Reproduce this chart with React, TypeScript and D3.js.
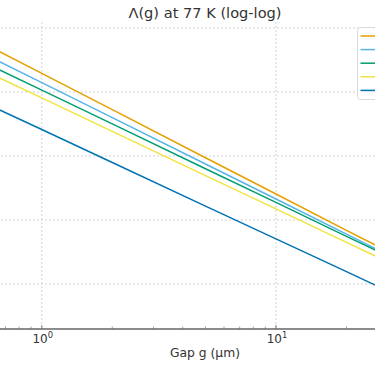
import * as d3 from "d3";
import { useEffect, useRef } from "react";

// gap values (µm) where the curves were read
const gaps = [0.6, 1, 2, 5, 10, 20, 30];

const seriesNames = ["Series A", "Series B", "Series C", "Series D", "Series E"];
const seriesColors = ["#E69F00", "#56B4E9", "#009E73", "#F0E442", "#0072B2"];

// Λ(g) values (y axis labels are cut off in the reference)
const lambdaA = [512, 196, 53.1, 9.4, 2.55, 0.69, 0.322];
const lambdaB = [355, 140, 39.8, 7.5, 2.13, 0.602, 0.288];
const lambdaC = [262, 107, 31.7, 6.33, 1.88, 0.556, 0.274];
const lambdaD = [196, 80.9, 24.2, 4.94, 1.49, 0.447, 0.221];
const lambdaE = [61.8, 25.9, 7.91, 1.65, 0.508, 0.156, 0.078];

const allSeries = [lambdaA, lambdaB, lambdaC, lambdaD, lambdaE];

const xTickValues = [0.1, 1, 10, 100];
const yTickValues = [0.01, 0.1, 1, 10, 100, 1000];

const W = 375;
const H = 366;
const FONT = "DejaVu Sans, sans-serif";

function LambdaChart() {
  const ref = useRef<SVGSVGElement | null>(null);

  useEffect(() => {
    const svg = d3.select(ref.current);
    svg.selectAll("*").remove();

    // plot area (wider than the picture, the original figure is cropped)
    const left = -35;
    const right = 445;
    const top = 22;
    const bottom = 329;

    const x = d3.scaleLog().domain([0.47, 52.7]).range([left, right]);
    const y = d3.scaleLog().domain([0.0198, 1241]).range([bottom, top]);

    svg.append("rect").attr("width", W).attr("height", H).attr("fill", "white");

    svg
      .append("defs")
      .append("clipPath")
      .attr("id", "plotClip")
      .append("rect")
      .attr("x", left)
      .attr("y", top)
      .attr("width", right - left)
      .attr("height", bottom - top);

    // grid
    const grid = svg.append("g");
    grid
      .selectAll("line.vx")
      .data(xTickValues.filter((t) => x(t) >= left && x(t) <= right))
      .enter()
      .append("line")
      .attr("x1", (d) => x(d))
      .attr("x2", (d) => x(d))
      .attr("y1", top)
      .attr("y2", bottom)
      .attr("stroke", "#c8c8c8")
      .attr("stroke-width", 0.8)
      .attr("stroke-dasharray", "2,2");
    grid
      .selectAll("line.hy")
      .data(yTickValues.filter((t) => y(t) >= top && y(t) <= bottom))
      .enter()
      .append("line")
      .attr("x1", left)
      .attr("x2", right)
      .attr("y1", (d) => y(d))
      .attr("y2", (d) => y(d))
      .attr("stroke", "#c8c8c8")
      .attr("stroke-width", 0.8)
      .attr("stroke-dasharray", "2,2");

    // lines
    const line = d3
      .line<number>()
      .x((_, i) => x(gaps[i]))
      .y((d) => y(d));

    svg
      .append("g")
      .attr("clip-path", "url(#plotClip)")
      .selectAll("path")
      .data(allSeries)
      .enter()
      .append("path")
      .attr("d", (d) => line(d))
      .attr("fill", "none")
      .attr("stroke", (_, i) => seriesColors[i])
      .attr("stroke-width", 1.5);

    // bottom spine + ticks (ticks point inward)
    const axis = svg.append("g");
    const minor = x.ticks().filter((t) => Math.abs(Math.log10(t) - Math.round(Math.log10(t))) > 1e-6);
    axis
      .selectAll("line.minor")
      .data(minor)
      .enter()
      .append("line")
      .attr("x1", (d) => x(d))
      .attr("x2", (d) => x(d))
      .attr("y1", bottom)
      .attr("y2", bottom - 2.5)
      .attr("stroke", "#666")
      .attr("stroke-width", 0.6);

    const major = xTickValues.filter((t) => x(t) >= left && x(t) <= right);
    axis
      .selectAll("line.major")
      .data(major)
      .enter()
      .append("line")
      .attr("x1", (d) => x(d))
      .attr("x2", (d) => x(d))
      .attr("y1", bottom)
      .attr("y2", bottom - 4)
      .attr("stroke", "#666")
      .attr("stroke-width", 0.8);

    axis
      .append("line")
      .attr("x1", left)
      .attr("x2", right)
      .attr("y1", bottom)
      .attr("y2", bottom)
      .attr("stroke", "#666")
      .attr("stroke-width", 1.6);

    const labels = axis
      .selectAll("text.tick")
      .data(major)
      .enter()
      .append("text")
      .attr("x", (d) => x(d) + 1)
      .attr("y", 342.7)
      .attr("text-anchor", "middle")
      .attr("font-family", FONT)
      .attr("font-size", 12)
      .attr("fill", "#333");
    labels.append("tspan").text("10");
    labels
      .append("tspan")
      .attr("dy", -5.2)
      .attr("font-size", 8.4)
      .text((d) => String(Math.round(Math.log10(d))));

    // axis label + title
    svg
      .append("text")
      .attr("x", (left + right) / 2)
      .attr("y", 357)
      .attr("text-anchor", "middle")
      .attr("font-family", FONT)
      .attr("font-size", 12.3)
      .attr("fill", "#333")
      .text("Gap g (μm)");

    svg
      .append("text")
      .attr("x", (left + right) / 2)
      .attr("y", 17.5)
      .attr("text-anchor", "middle")
      .attr("font-family", FONT)
      .attr("font-size", 14.6)
      .attr("fill", "#333")
      .text("Λ(g) at 77 K (log-log)");

    // legend (its labels fall outside the cropped picture)
    const legend = svg.append("g").attr("transform", "translate(357.5,27.5)");
    legend
      .append("rect")
      .attr("width", 90)
      .attr("height", 72)
      .attr("rx", 3)
      .attr("fill", "white")
      .attr("fill-opacity", 0.85)
      .attr("stroke", "#d0d0d0")
      .attr("stroke-width", 0.8);
    const items = legend
      .selectAll("g.item")
      .data(seriesNames)
      .enter()
      .append("g")
      .attr("transform", (_, i) => `translate(3,${8.5 + i * 13.6})`);
    items.append("title").text((d) => d);
    items
      .append("line")
      .attr("x1", 0)
      .attr("x2", 20)
      .attr("stroke", (_, i) => seriesColors[i])
      .attr("stroke-width", 1.5);
  }, []);

  return (
    <svg
      ref={ref}
      width={W}
      height={H}
      style={{ position: "fixed", left: 0, top: 0, overflow: "hidden", display: "block" }}
    />
  );
}

export default function App() {
  return <LambdaChart />;
}
